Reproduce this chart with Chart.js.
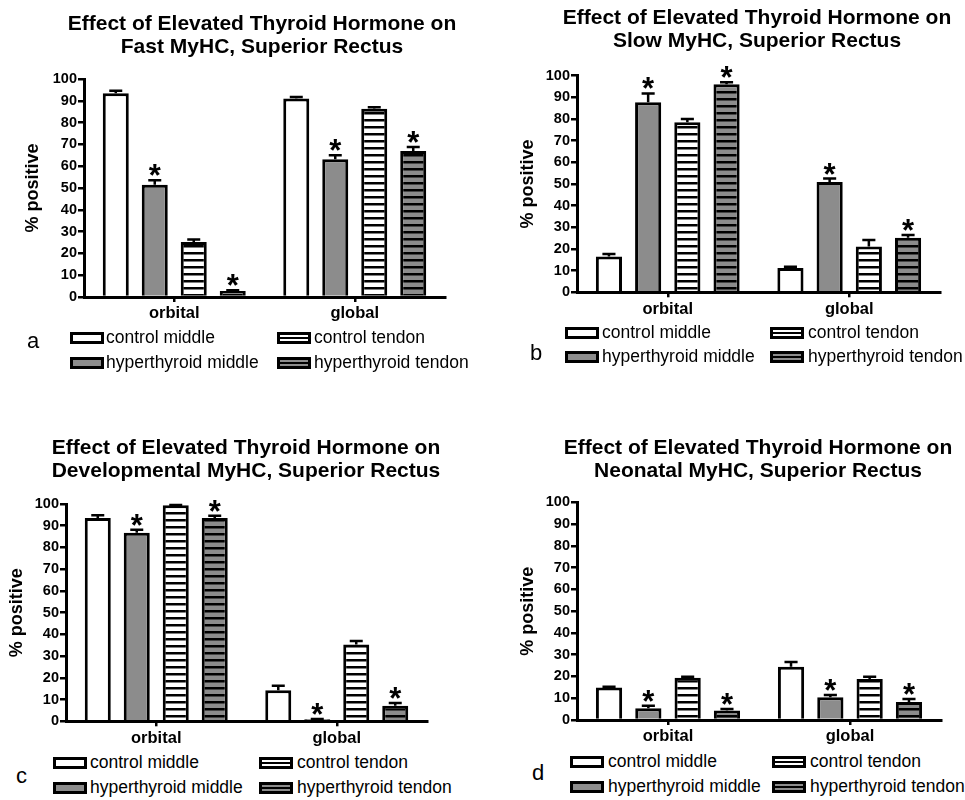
<!DOCTYPE html>
<html><head><meta charset="utf-8">
<script src="https://cdn.jsdelivr.net/npm/chart.js@4"></script>
<style>
body{margin:0;background:#fff;}
#fig{position:relative;width:965px;height:800px;overflow:hidden;font-family:"Liberation Sans",Arial,sans-serif;background:#fff;}
canvas{position:absolute;}
.lg{position:absolute;white-space:nowrap;font-size:17.5px;line-height:20px;color:#000;}
.sw{position:absolute;width:34px;height:12px;box-sizing:border-box;border:3px solid #000;}
.letter{position:absolute;font-size:22px;line-height:24px;color:#000;}
.ttl{position:absolute;width:520px;text-align:center;white-space:nowrap;font-weight:bold;font-size:21px;line-height:23px;color:#000;}
</style></head>
<body><div id="fig">
<canvas id="cA" width="480" height="350" style="left:0;top:0"></canvas>
<canvas id="cB" width="485" height="350" style="left:480px;top:0"></canvas>
<canvas id="cC" width="480" height="350" style="left:0;top:400px"></canvas>
<canvas id="cD" width="485" height="350" style="left:480px;top:400px"></canvas>
</div>
<script>
// ---------- data ----------
const categories = ['orbital', 'global'];
const seriesLabels = ['control middle', 'hyperthyroid middle', 'control tendon', 'hyperthyroid tendon'];
const yAxisTitle = '% positive';

// a: Fast MyHC
const fastTitle = ['Effect of Elevated Thyroid Hormone on', 'Fast MyHC, Superior Rectus'];
const fastCtrlMid = [93.5, 91.0];
const fastHypMid  = [51.5, 63.2];
const fastCtrlTen = [25.2, 86.4];
const fastHypTen  = [2.7, 67.0];
const fastCtrlMidErr = [1.1, 0.7];
const fastHypMidErr  = [2.0, 1.8];
const fastCtrlTenErr = [1.2, 0.6];
const fastHypTenErr  = [0.4, 1.8];

// b: Slow MyHC
const slowTitle = ['Effect of Elevated Thyroid Hormone on', 'Slow MyHC, Superior Rectus'];
const slowCtrlMid = [16.5, 11.2];
const slowHypMid  = [87.7, 50.9];
const slowCtrlTen = [78.5, 21.2];
const slowHypTen  = [96.0, 25.2];
const slowCtrlMidErr = [1.2, 0.6];
const slowHypMidErr  = [4.1, 1.6];
const slowCtrlTenErr = [1.5, 3.0];
const slowHypTenErr  = [1.0, 1.3];

// c: Developmental MyHC
const devTitle = ['Effect of Elevated Thyroid Hormone on', 'Developmental MyHC, Superior Rectus'];
const devCtrlMid = [93.6, 14.3];
const devHypMid  = [86.8, 0.9];
const devCtrlTen = [99.4, 35.4];
const devHypTen  = [93.6, 7.1];
const devCtrlMidErr = [1.2, 2.1];
const devHypMidErr  = [1.4, 0.2];
const devCtrlTenErr = [0.1, 1.6];
const devHypTenErr  = [1.0, 1.3];

// d: Neonatal MyHC
const neoTitle = ['Effect of Elevated Thyroid Hormone on', 'Neonatal MyHC, Superior Rectus'];
const neoCtrlMid = [14.9, 24.5];
const neoHypMid  = [5.4, 10.4];
const neoCtrlTen = [19.4, 18.8];
const neoHypTen  = [4.4, 8.3];
const neoCtrlMidErr = [0.4, 2.1];
const neoHypMidErr  = [1.2, 1.1];
const neoCtrlTenErr = [0.5, 1.1];
const neoHypTenErr  = [0.6, 1.3];

// significance (*) per series, per category
const sigCtrlMid = [false, false];
const sigHypMid  = [true, true];
const sigCtrlTen = [false, false];
const sigHypTen  = [true, true];

// ---------- styling / layout ----------
const FONT = '"Liberation Sans", Arial, sans-serif';
const GRAY = '#8c8c8c';
const fig = document.getElementById('fig');

function stripePattern(ctx, bg) {
  const t = document.createElement('canvas');
  t.width = 8; t.height = 7;
  const g = t.getContext('2d');
  g.fillStyle = bg; g.fillRect(0, 0, 8, 7);
  g.fillStyle = '#000'; g.fillRect(0, 0, 8, 2.5);
  return ctx.createPattern(t, 'repeat');
}

const errorBarPlugin = {
  id: 'errorBars',
  afterDatasetsDraw(chart) {
    const ctx = chart.ctx, ys = chart.scales.y;
    chart.data.datasets.forEach((ds, i) => {
      const meta = chart.getDatasetMeta(i);
      meta.data.forEach((bar, j) => {
        const top = ys.getPixelForValue(ds.data[j] + ds.errors[j]);
        const half = bar.width / 4;
        ctx.save();
        ctx.strokeStyle = '#000'; ctx.lineWidth = 2.5;
        ctx.beginPath();
        ctx.moveTo(bar.x, bar.y); ctx.lineTo(bar.x, top);
        ctx.moveTo(bar.x - half, top); ctx.lineTo(bar.x + half, top);
        ctx.stroke();
        if (ds.significant[j]) {
          ctx.fillStyle = '#000';
          ctx.font = 'bold 31px ' + FONT;
          ctx.textAlign = 'center'; ctx.textBaseline = 'alphabetic';
          ctx.fillText('*', bar.x, top + 6);
        }
        ctx.restore();
      });
    });
  }
};

function makeChart(id, title, vals, errs, g) {
  const canvas = document.getElementById(id);
  const ctx = canvas.getContext('2d');
  const fills = ['#ffffff', GRAY, stripePattern(ctx, '#ffffff'), stripePattern(ctx, GRAY)];
  const sigs = [sigCtrlMid, sigHypMid, sigCtrlTen, sigHypTen];
  const datasets = seriesLabels.map((lab, i) => ({
    label: lab,
    data: vals[i],
    errors: errs[i],
    significant: sigs[i],
    backgroundColor: fills[i],
    borderColor: '#000',
    borderWidth: 3,
    borderSkipped: 'start',
    categoryPercentage: 0.864,
    barPercentage: 0.667
  }));
  // chart title as text above the plot
  const t = document.createElement('div');
  t.className = 'ttl';
  t.style.left = (g.tcx - 260) + 'px';
  t.style.top = g.ttop + 'px';
  t.innerHTML = title.join('<br>');
  fig.appendChild(t);

  return new Chart(ctx, {
    type: 'bar',
    data: { labels: categories, datasets },
    plugins: [errorBarPlugin],
    options: {
      responsive: false,
      animation: false,
      layout: { padding: { left: 0, right: g.right, top: g.top, bottom: 0 } },
      plugins: {
        legend: { display: false },
        tooltip: { enabled: false },
        title: { display: false }
      },
      scales: {
        x: {
          offset: true,
          grid: { offset: false, drawOnChartArea: false, drawTicks: true, tickLength: 5, lineWidth: 2.5, color: '#000' },
          border: { display: true, width: 3, color: '#000' },
          ticks: { color: '#000', padding: 2, font: { family: FONT, size: 16.5, weight: 'bold' } },
          afterFit: s => { s.height = g.H - g.bottom; }
        },
        y: {
          min: 0, max: 100,
          ticks: { stepSize: 10, color: '#000', padding: 1, font: { family: FONT, size: 14.5, weight: 'bold' } },
          grid: { drawOnChartArea: false, drawTicks: true, tickLength: 6, lineWidth: 2.5, color: '#000' },
          border: { display: true, width: 3, color: '#000' },
          title: { display: true, text: yAxisTitle, color: '#000', padding: { top: g.ypt, bottom: 0 },
                   font: { family: FONT, size: 18, weight: 'bold' } },
          afterFit: s => { s.width = g.left; }
        }
      }
    }
  });
}

makeChart('cA', fastTitle,
  [fastCtrlMid, fastHypMid, fastCtrlTen, fastHypTen],
  [fastCtrlMidErr, fastHypMidErr, fastCtrlTenErr, fastHypTenErr],
  { H: 350, left: 84, right: 35, top: 79, bottom: 297, ypt: 22, tcx: 262, ttop: 10.5 });
makeChart('cB', slowTitle,
  [slowCtrlMid, slowHypMid, slowCtrlTen, slowHypTen],
  [slowCtrlMidErr, slowHypMidErr, slowCtrlTenErr, slowHypTenErr],
  { H: 350, left: 97, right: 25, top: 75.7, bottom: 292.3, ypt: 37, tcx: 757, ttop: 4.5 });
makeChart('cC', devTitle,
  [devCtrlMid, devHypMid, devCtrlTen, devHypTen],
  [devCtrlMidErr, devHypMidErr, devCtrlTenErr, devHypTenErr],
  { H: 350, left: 66, right: 53, top: 104, bottom: 321.3, ypt: 6, tcx: 246, ttop: 435.2 });
makeChart('cD', neoTitle,
  [neoCtrlMid, neoHypMid, neoCtrlTen, neoHypTen],
  [neoCtrlMidErr, neoHypMidErr, neoCtrlTenErr, neoHypTenErr],
  { H: 350, left: 97, right: 24, top: 102.3, bottom: 320, ypt: 37, tcx: 758, ttop: 434.5 });

// ---------- HTML legends ----------
const swatchBg = [
  '#fff',
  GRAY,
  'linear-gradient(#fff 0 2px, #000 2px 4px, #fff 4px 6px)',
  'linear-gradient(' + GRAY + ' 0 2px, #000 2px 4px, ' + GRAY + ' 4px 6px)'
];
const panelLetters = ['a', 'b', 'c', 'd'];
const legendPos = [
  { s1: 70, t1: 106, s2: 277, t2: 314, r1: 343.3, r2: 367.7, lx: 27, lb: 349 },
  { s1: 565, t1: 602, s2: 770, t2: 808, r1: 338, r2: 362, lx: 530, lb: 361 },
  { s1: 53, t1: 90, s2: 259, t2: 297, r1: 768, r2: 793, lx: 16, lb: 784 },
  { s1: 570, t1: 608, s2: 772, t2: 810, r1: 767, r2: 792, lx: 532, lb: 781 }
];
function el(cls, x, y, txt, bg) {
  const d = document.createElement('div');
  d.className = cls; d.style.left = x + 'px'; d.style.top = y + 'px';
  if (txt) d.textContent = txt;
  if (bg) d.style.background = bg;
  fig.appendChild(d);
}
legendPos.forEach((p, k) => {
  const cols = [[p.s1, p.t1], [p.s1, p.t1], [p.s2, p.t2], [p.s2, p.t2]];
  const rows = [p.r1, p.r2, p.r1, p.r2];
  seriesLabels.forEach((lab, i) => {
    el('sw', cols[i][0], rows[i] - 5 - 6, null, swatchBg[i]);
    el('lg', cols[i][1], rows[i] - 16, lab);
  });
  el('letter', p.lx, p.lb - 19.6, panelLetters[k]);
});
</script>
</body></html>
